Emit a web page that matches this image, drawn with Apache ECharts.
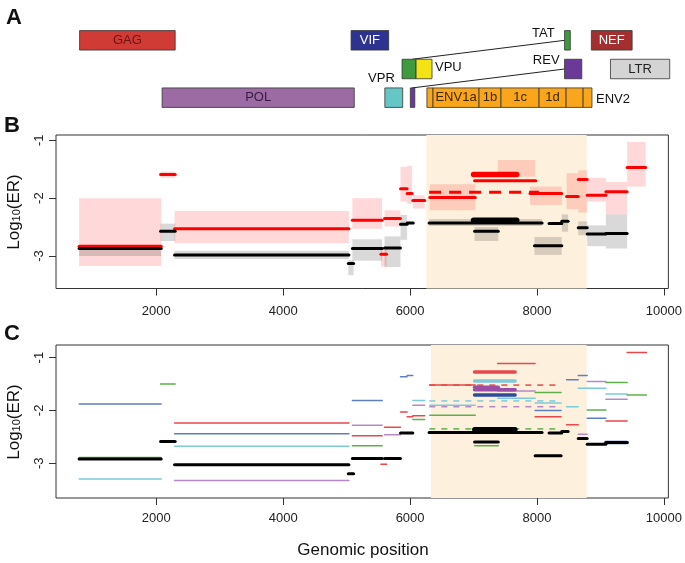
<!DOCTYPE html>
<html>
<head>
<meta charset="utf-8">
<script src="https://cdn.jsdelivr.net/npm/echarts@6/dist/echarts.min.js"></script>
<style>
  html, body { margin: 0; padding: 0; background: #fff; }
  #chart { width: 685px; height: 563px; }
</style>
</head>
<body>
<div id="chart"></div>
<script>
// axis values
const xRange = [420, 10070];
const xTicks = [2000, 4000, 6000, 8000, 10000];
const yTicks = [-3, -2, -1];
const yRangeB = [-3.56, -0.91];
const yRangeC = [-3.66, -0.76];

// shaded env region in panels B and C
const envRegionB = [[6257, 8781]];
const envRegionC = [[6330, 8781]];

// panel A: [gene, start, end, row, label]
const genes = [
  ['GAG', 790, 2290, 0, 'GAG'],
  ['VIF', 5050, 5640, 0, 'VIF'],
  ['TAT', 8400, 8490, 0, 'TAT'],
  ['NEF', 8820, 9460, 0, 'NEF'],
  ['TAT', 5850, 6070, 1, ''],
  ['VPU', 6070, 6320, 1, 'VPU'],
  ['REV', 8400, 8670, 1, 'REV'],
  ['LTR', 9120, 10050, 1, 'LTR'],
  ['POL', 2085, 5100, 2, 'POL'],
  ['VPR', 5580, 5860, 2, 'VPR'],
  ['REV', 5980, 6050, 2, ''],
  ['ENV', 6240, 6336, 2, ''],
  ['ENV', 6336, 7058, 2, 'ENV1a'],
  ['ENV', 7058, 7403, 2, '1b'],
  ['ENV', 7403, 8000, 2, '1c'],
  ['ENV', 8000, 8424, 2, '1d'],
  ['ENV', 8424, 8691, 2, ''],
  ['ENV', 8691, 8830, 2, 'ENV2']
];
// spliced exons: [exon1 end, row, exon2 start, row]
const splices = [
  [6010, 1, 8400, 0],
  [6010, 2, 8400, 1]
];

// panel B: bands [start, end, low, high], lines [start, end, value]
const redBandsB = [
  [784, 2078, -3.17, -2.00], [2068, 2298, -1.65, -1.54], [2288, 5036, -2.78, -2.22],
  [5090, 5560, -2.53, -2.00], [5540, 5630, -3.18, -2.86], [5597, 5848, -2.49, -2.21],
  [5849, 5953, -2.06, -1.46], [5953, 6032, -2.10, -1.44], [6043, 6230, -2.18, -1.95],
  [6310, 7027, -2.21, -1.76], [7382, 7970, -1.63, -1.34], [7890, 8390, -2.12, -1.80],
  [8466, 8650, -2.19, -1.57], [8650, 8791, -2.25, -1.52], [8791, 9085, -2.06, -1.65],
  [9085, 9420, -2.28, -1.72], [9420, 9713, -1.80, -1.03]
];
const greyBandsB = [
  [784, 2078, -3.00, -2.81], [2068, 2298, -2.74, -2.44], [2288, 5036, -3.05, -2.91],
  [5026, 5110, -3.33, -3.07], [5090, 5560, -3.08, -2.71], [5597, 5848, -3.19, -2.66],
  [5849, 5953, -2.72, -2.29], [6300, 8080, -2.48, -2.36], [7016, 7390, -2.74, -2.50],
  [7960, 8390, -2.98, -2.67], [8390, 8490, -2.58, -2.28], [8650, 8791, -2.64, -2.40],
  [8791, 9085, -2.83, -2.47], [9085, 9420, -2.87, -2.28]
];
const redLinesB = [
  [784, 2078, -2.83], [2068, 2298, -1.59], [2288, 5036, -2.53], [5090, 5560, -2.38],
  [5540, 5630, -2.97], [5597, 5848, -2.35], [5849, 5953, -1.84], [5953, 6032, -1.92],
  [6043, 6230, -2.04], [6310, 7027, -1.99], [7016, 7980, -1.70], [7890, 8390, -1.92],
  [8466, 8650, -1.97], [8650, 8791, -1.68], [8791, 9085, -1.95], [9085, 9420, -1.89],
  [9420, 9713, -1.47]
];
const redThickB = [[7000, 7680, -1.59]];
const redDashedB = [[6300, 8030, -1.90]];
const blackLinesB = [
  [784, 2078, -2.87], [2068, 2298, -2.57], [2288, 5036, -2.98], [5026, 5110, -3.13],
  [5090, 5560, -2.87], [5597, 5848, -2.86], [5849, 5953, -2.45], [5953, 6050, -2.43],
  [6300, 8080, -2.43], [7016, 7390, -2.57], [7960, 8390, -2.82], [8190, 8390, -2.44],
  [8390, 8490, -2.40], [8650, 8791, -2.51], [8791, 9085, -2.62], [9085, 9420, -2.61]
];
const blackThickB = [[7000, 7680, -2.38]];

// panel C
const redC = [
  [2288, 5036, -2.24], [5090, 5560, -2.48], [5597, 5848, -2.32], [5540, 5630, -3.02],
  [5849, 5953, -2.03], [5953, 6043, -2.12], [6043, 6230, -2.10], [6310, 7027, -1.52],
  [7382, 7970, -1.11], [7970, 8380, -2.12], [8466, 8650, -2.27], [9085, 9420, -2.20],
  [9420, 9725, -0.90]
];
const redThickC = [[7016, 7655, -1.27]];
const redDashedC = [[6303, 8335, -1.52]];
const blueC = [
  [784, 2078, -1.88], [2288, 5036, -2.44], [5090, 5560, -1.81], [5849, 5953, -1.36],
  [5953, 6043, -1.34], [7970, 8380, -2.00], [8466, 8650, -1.42], [8650, 8791, -1.34],
  [8791, 9085, -2.15]
];
const navyThickC = [[7016, 7655, -1.71], [9085, 9420, -2.61]];
const cyanC = [
  [784, 2078, -3.30], [2288, 5036, -2.68], [6043, 6230, -1.81], [6310, 7027, -1.90],
  [7382, 7970, -1.77], [7970, 8380, -1.86], [8466, 8650, -1.93], [8650, 9085, -1.58],
  [9085, 9420, -1.69]
];
const cyanThickC = [[7016, 7655, -1.44]];
const cyanDashedC = [[6303, 8335, -1.82]];
const greenC = [
  [784, 2078, -2.89], [2068, 2298, -1.50], [5090, 5560, -2.67], [6043, 6230, -2.17],
  [6310, 7027, -2.09], [7016, 7390, -2.67], [7970, 8380, -1.66], [8791, 9085, -1.99],
  [9085, 9420, -1.47], [9420, 9725, -1.71]
];
const greenDashedC = [[6303, 8335, -2.35]];
const purpleC = [
  [2288, 5036, -3.33], [5090, 5560, -2.28], [5597, 5848, -2.46], [6043, 6230, -1.90],
  [7382, 7970, -1.63], [8650, 8791, -2.45], [8791, 9085, -1.45], [9085, 9420, -1.79]
];
const purpleThickC = [[7016, 7390, -1.56], [7016, 7655, -1.61]];
const purpleDashedC = [[6303, 8335, -1.93]];
const blackC = [
  [784, 2078, -2.92], [2068, 2298, -2.59], [2288, 5036, -3.03], [5026, 5110, -3.20],
  [5090, 5560, -2.91], [5597, 5848, -2.91], [5849, 6043, -2.43], [6300, 8080, -2.42],
  [7016, 7390, -2.60], [7970, 8380, -2.86], [8190, 8390, -2.43], [8390, 8490, -2.40],
  [8650, 8791, -2.53], [8791, 9085, -2.64], [9085, 9420, -2.61]
];
const blackThickC = [[7016, 7655, -2.36]];

const FONT = '"Liberation Sans", Arial, Helvetica, sans-serif';

const geneStyle = {
  GAG: { fill: '#d13b35', text: '#6e1414' },
  VIF: { fill: '#2f3390', text: '#ffffff' },
  TAT: { fill: '#3d9a3d', text: '#111' },
  NEF: { fill: '#a3302f', text: '#ffffff' },
  VPU: { fill: '#f3e312', text: '#111' },
  REV: { fill: '#6b3a98', text: '#111' },
  LTR: { fill: '#d4d4d4', text: '#222' },
  POL: { fill: '#9c6ba4', text: '#3a1a40' },
  VPR: { fill: '#66c6c6', text: '#111' },
  ENV: { fill: '#faa61c', text: '#3a2600' }
};
// labels that sit outside their box
const labelPlace = {
  TAT: { side: 'left', dx: -10, dy: -7 },
  REV: { side: 'left', dx: -5, dy: -8.5 },
  VPU: { side: 'right', dx: 3, dy: -2 },
  VPR: { side: 'left', dx: 10, dy: -19 },
  ENV2: { side: 'right', dx: 4, dy: 1.5 }
};

const chart = echarts.init(document.getElementById('chart'), null, { renderer: 'canvas' });

function makeX(gi, show, margin) {
  return {
    type: 'value', gridIndex: gi, min: xRange[0], max: xRange[1], show: show,
    axisLine: { show: false },
    splitLine: { show: false },
    axisTick: { show: true, length: 7, lineStyle: { color: '#333' }, customValues: xTicks },
    axisLabel: {
      customValues: xTicks, fontSize: 13, color: '#222', margin: margin, fontFamily: FONT,
      formatter: function (v) { return String(v); }
    }
  };
}

function makeY(gi, range) {
  return {
    type: 'value', gridIndex: gi, min: range[0], max: range[1],
    axisLine: { show: false },
    splitLine: { show: false },
    axisTick: { show: true, length: 7, lineStyle: { color: '#333' }, customValues: yTicks },
    axisLabel: {
      customValues: yTicks, fontSize: 13, color: '#222', margin: 10, rotate: 90, fontFamily: FONT,
      formatter: function (v) { return String(v); }
    }
  };
}

function regionSeries(data, gi) {
  return {
    type: 'custom', xAxisIndex: gi, yAxisIndex: gi, silent: true, z: 1,
    data: data, encode: { x: [0, 1] },
    renderItem: function (params, api) {
      const a = api.coord([api.value(0), 0]);
      const b = api.coord([api.value(1), 0]);
      const cs = params.coordSys;
      return { type: 'rect', shape: { x: a[0], y: cs.y, width: b[0] - a[0], height: cs.height },
        style: { fill: '#fdf0dc' } };
    }
  };
}

function bandSeries(data, gi, color) {
  return {
    type: 'custom', xAxisIndex: gi, yAxisIndex: gi, silent: true, z: 2,
    data: data, encode: { x: [0, 1], y: [2, 3] },
    renderItem: function (params, api) {
      const a = api.coord([api.value(0), api.value(3)]);
      const b = api.coord([api.value(1), api.value(2)]);
      return { type: 'rect', shape: { x: a[0], y: a[1], width: b[0] - a[0], height: b[1] - a[1] },
        style: { fill: color } };
    }
  };
}

function segSeries(data, gi, color, width, dash) {
  return {
    type: 'custom', xAxisIndex: gi, yAxisIndex: gi, silent: true, z: 3,
    data: data, encode: { x: [0, 1], y: 2 },
    renderItem: function (params, api) {
      const a = api.coord([api.value(0), api.value(2)]);
      const b = api.coord([api.value(1), api.value(2)]);
      return { type: 'line', shape: { x1: a[0], y1: a[1], x2: b[0], y2: b[1] },
        style: { stroke: color, lineWidth: width, lineDash: dash || null, lineCap: dash ? 'butt' : 'round' } };
    }
  };
}

const geneSeries = {
  type: 'custom', xAxisIndex: 0, yAxisIndex: 0, silent: true, z: 3,
  data: genes.map(function (g) { return [g[1], g[2], g[3]]; }),
  encode: { x: [0, 1], y: 2 },
  renderItem: function (params, api) {
    const g = genes[params.dataIndex];
    const p0 = api.coord([g[1], g[3]]);
    const p1 = api.coord([g[2], g[3]]);
    const h = api.size([0, 1])[1] * 0.68;
    const st = geneStyle[g[0]];
    const children = [{
      type: 'rect',
      shape: { x: p0[0], y: p0[1] - h / 2, width: p1[0] - p0[0], height: h },
      style: { fill: st.fill, stroke: '#333', lineWidth: 0.8 }
    }];
    if (g[4]) {
      const lp = labelPlace[g[4]];
      let x, align;
      if (!lp) { x = (p0[0] + p1[0]) / 2; align = 'center'; }
      else if (lp.side === 'left') { x = p0[0] + lp.dx; align = 'right'; }
      else { x = p1[0] + lp.dx; align = 'left'; }
      children.push({
        type: 'text', x: x, y: p0[1] + (lp ? lp.dy : 0),
        style: { text: g[4], fill: lp ? '#111' : st.text, fontSize: 13, fontFamily: FONT,
          align: align, verticalAlign: 'middle' }
      });
    }
    return { type: 'group', children: children };
  }
};

const spliceSeries = {
  type: 'custom', xAxisIndex: 0, yAxisIndex: 0, silent: true, z: 2,
  data: splices, encode: { x: [0, 2], y: [1, 3] },
  renderItem: function (params, api) {
    const h = api.size([0, 1])[1] * 0.68;
    const a = api.coord([api.value(0), api.value(1)]);
    const b = api.coord([api.value(2), api.value(3)]);
    return { type: 'line', shape: { x1: a[0], y1: a[1] - h / 2, x2: b[0], y2: b[1] },
      style: { stroke: '#222', lineWidth: 1 } };
  }
};

const PINK = 'rgba(255,0,0,0.15)';
const GREY = 'rgba(0,0,0,0.15)';
const C_RED = '#e8474b', C_BLUE = '#5f80c0', C_NAVY = '#2c4c9c', C_CYAN = '#7dcadb',
  C_GREEN = '#5fb04b', C_PURPLE = '#b888c6', C_PURPLE2 = '#9a4ea6';

function label(text, x, y, size, bold, rot) {
  return {
    type: 'text', x: x, y: y, rotation: rot || 0,
    style: { text: text, fontSize: size, fontWeight: bold ? 'bold' : 'normal', fontFamily: FONT,
      fill: '#111', align: 'center', verticalAlign: 'middle' }
  };
}

function yName(y) {
  return {
    type: 'text', x: 14, y: y, rotation: Math.PI / 2,
    style: {
      text: '{a|Log}{s|10}{a|(ER)}', align: 'center', verticalAlign: 'middle',
      rich: {
        a: { fontSize: 17, fontFamily: FONT, fill: '#111' },
        s: { fontSize: 11, fontFamily: FONT, fill: '#111', verticalAlign: 'bottom' }
      }
    }
  };
}

chart.setOption({
  animation: false,
  backgroundColor: '#fff',
  grid: [
    { left: 56, width: 615, top: 26, height: 86, show: false },
    { left: 56, width: 615, top: 135, height: 153.5, show: true, borderColor: '#333', borderWidth: 1 },
    { left: 56, width: 615, top: 345, height: 153, show: true, borderColor: '#333', borderWidth: 1 }
  ],
  xAxis: [makeX(0, false, 8), makeX(1, true, 16), makeX(2, true, 14)],
  yAxis: [
    { type: 'value', gridIndex: 0, min: -0.5, max: 2.5, inverse: true, show: false },
    makeY(1, yRangeB),
    makeY(2, yRangeC)
  ],
  graphic: [
    label('A', 14, 18, 22, true),
    label('B', 12, 126, 22, true),
    label('C', 12, 334, 22, true),
    yName(212),
    yName(422),
    label('Genomic position', 363, 550, 17, false)
  ],
  series: [
    spliceSeries,
    geneSeries,

    regionSeries(envRegionB, 1),
    bandSeries(redBandsB, 1, PINK),
    bandSeries(greyBandsB, 1, GREY),
    segSeries(redLinesB, 1, '#f00', 3),
    segSeries(redThickB, 1, '#f00', 5.5),
    segSeries(redDashedB, 1, '#f00', 3, [12, 8]),
    segSeries(blackLinesB, 1, '#000', 3),
    segSeries(blackThickB, 1, '#000', 5.5),

    regionSeries(envRegionC, 2),
    segSeries(redC, 2, C_RED, 1.5),
    segSeries(redThickC, 2, C_RED, 3.5),
    segSeries(redDashedC, 2, C_RED, 1.5, [6, 6]),
    segSeries(blueC, 2, C_BLUE, 1.5),
    segSeries(navyThickC, 2, C_NAVY, 3.5),
    segSeries(cyanC, 2, C_CYAN, 1.5),
    segSeries(cyanThickC, 2, C_CYAN, 3.5),
    segSeries(cyanDashedC, 2, C_CYAN, 1.5, [6, 6]),
    segSeries(greenC, 2, C_GREEN, 1.5),
    segSeries(greenDashedC, 2, C_GREEN, 1.5, [6, 6]),
    segSeries(purpleC, 2, C_PURPLE, 1.5),
    segSeries(purpleThickC, 2, C_PURPLE2, 3.5),
    segSeries(purpleDashedC, 2, C_PURPLE, 1.5, [6, 6]),
    segSeries(blackC, 2, '#000', 3),
    segSeries(blackThickC, 2, '#000', 5)
  ]
});
</script>
</body>
</html>
